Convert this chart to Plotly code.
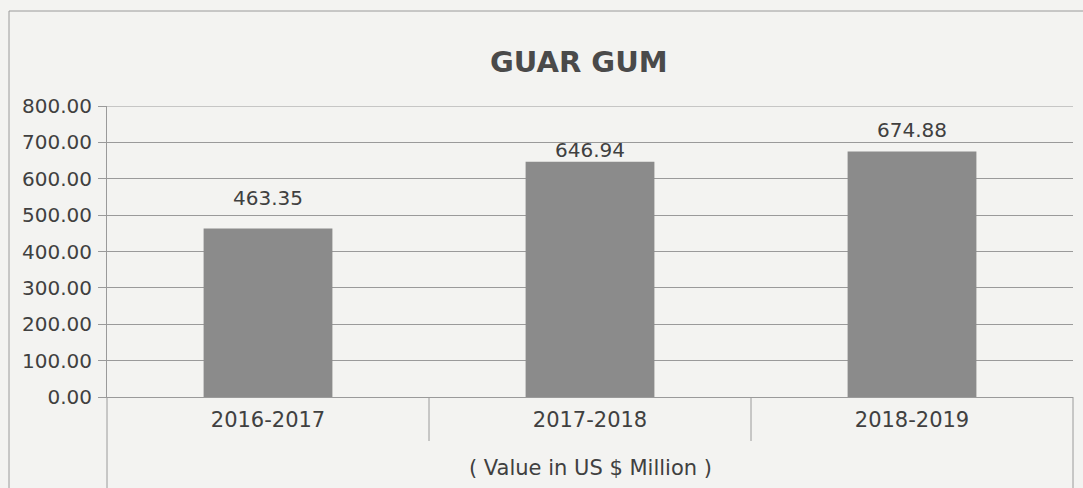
import plotly.graph_objects as go

# ---- data ----
title_text = "GUAR GUM"
categories = ["2016-2017", "2017-2018", "2018-2019"]
values = [463.35, 646.94, 674.88]
value_labels = ["463.35", "646.94", "674.88"]
unit_note = "( Value in US $ Million )"
y_ticks = [0, 100, 200, 300, 400, 500, 600, 700, 800]

# ---- style / layout ----
W, H = 1083, 488
ML, MR, MT, MB = 107, 10, 106, 91
PW, PH = W - ML - MR, H - MT - MB
label_shift = [30, 12, 22]  # pixel offsets of value labels above bar tops
FONT = "DejaVu Sans"
TXT = "#404040"
LINE = "#9a9a9a"
BG = "#f3f3f1"
BAR = "#8b8b8b"


def xp(px):
    return (px - ML) / PW


def yp(py):
    return (H - MB - py) / PH


fig = go.Figure()
fig.add_trace(go.Bar(
    x=categories, y=values, marker=dict(color=BAR, line=dict(width=0)),
    width=0.4, hoverinfo="x+y",
))

annotations = []
for c, v, lab, s in zip(categories, values, value_labels, label_shift):
    annotations.append(dict(
        x=c, y=v, xref="x", yref="y", text=lab, showarrow=False,
        yanchor="middle", yshift=s, font=dict(family=FONT, size=20, color=TXT),
    ))
annotations.append(dict(
    x=xp(579), y=yp(62), xref="paper", yref="paper", text="<b>" + title_text + "</b>",
    showarrow=False, xanchor="center", yanchor="middle",
    font=dict(family=FONT, size=29, color="#4a4a4a"),
))
annotations.append(dict(
    x=0.5, y=yp(468), xref="paper", yref="paper", text=unit_note,
    showarrow=False, xanchor="center", yanchor="middle",
    font=dict(family=FONT, size=21, color=TXT),
))

shapes = []
lw = dict(color=LINE, width=1)
# outer frame (left and top)
shapes.append(dict(type="line", xref="paper", yref="paper", x0=xp(9), x1=xp(9), y0=yp(H), y1=yp(11), line=lw))
shapes.append(dict(type="line", xref="paper", yref="paper", x0=xp(9), x1=xp(W + 5), y0=yp(11), y1=yp(11), line=lw))
# top gridline at the axis maximum
shapes.append(dict(type="line", xref="paper", yref="y", x0=0, x1=1, y0=y_ticks[-1], y1=y_ticks[-1], line=lw))
# table borders below the axis
shapes.append(dict(type="line", xref="paper", yref="paper", x0=0, x1=0, y0=yp(H), y1=0, line=lw))
shapes.append(dict(type="line", xref="paper", yref="paper", x0=1, x1=1, y0=yp(H), y1=0, line=lw))
for i in range(len(categories) - 1):
    shapes.append(dict(type="line", xref="x", yref="paper", x0=i + 0.5, x1=i + 0.5,
                       y0=yp(441), y1=0, line=lw))

fig.update_layout(
    width=W, height=H,
    margin=dict(l=ML, r=MR, t=MT, b=MB),
    paper_bgcolor=BG, plot_bgcolor=BG,
    showlegend=False,
    annotations=annotations,
    shapes=shapes,
    bargap=0.6,
    xaxis=dict(
        type="category", showline=True, linecolor=LINE, linewidth=1,
        showgrid=False, ticks="", ticklabelstandoff=4,
        tickfont=dict(family=FONT, size=21, color=TXT),
        range=[-0.5, len(categories) - 0.5], fixedrange=True,
    ),
    yaxis=dict(
        range=[0, 800], tickvals=y_ticks, tickformat=".2f",
        showline=True, linecolor=LINE, linewidth=1,
        showgrid=True, gridcolor=LINE, gridwidth=1, zeroline=False,
        ticks="outside", ticklen=8, tickcolor=LINE, tickwidth=1,
        tickfont=dict(family=FONT, size=20, color=TXT), ticklabelstandoff=2,
        fixedrange=True,
    ),
)

fig.write_html(
    "out.html",
    config={"displayModeBar": False},
    post_script="document.body.style.margin='0';document.body.style.background='%s';" % BG,
)
